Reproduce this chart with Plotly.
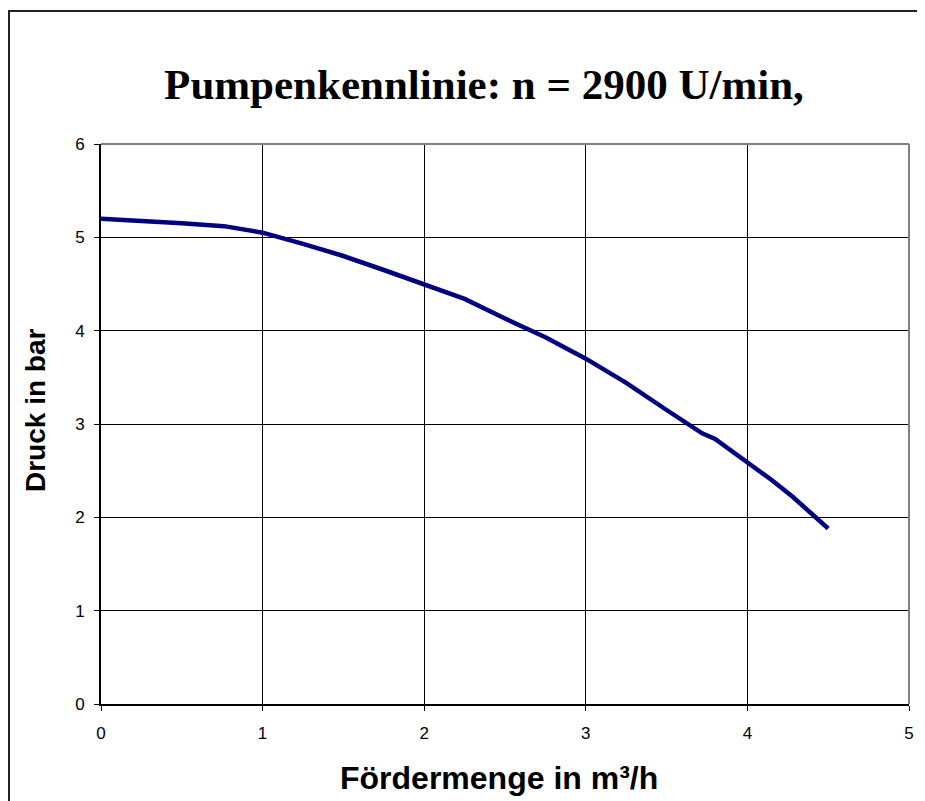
import plotly.graph_objects as go

# Data
foerdermenge = [0.0, 0.25, 0.5, 0.76, 1.0, 1.25, 1.5, 1.75, 2.0, 2.25, 2.5, 2.75, 3.0, 3.25, 3.5, 3.72, 3.8, 4.0, 4.15, 4.28, 4.5]
druck = [5.20, 5.18, 5.15, 5.12, 5.05, 4.93, 4.80, 4.65, 4.49, 4.34, 4.13, 3.93, 3.70, 3.44, 3.15, 2.90, 2.84, 2.59, 2.40, 2.22, 1.88]
x_ticks = [0, 1, 2, 3, 4, 5]
y_ticks = [0, 1, 2, 3, 4, 5, 6]

title_text = "Pumpenkennlinie: n = 2900 U/min,"
x_title = "Fördermenge in m³/h"
y_title = "Druck in bar"

# figure is placed at (8, 8) in the page because of the default body margin
W, H = 917, 793
L, R, T, B = 93, 16, 136, 97
pw = W - L - R
ph = H - T - B


def fx(px):
    return (px - L) / pw


def fy(py):
    return (H - B - py) / ph


fig = go.Figure()
fig.add_trace(go.Scatter(
    x=foerdermenge, y=druck, mode="lines",
    line=dict(color="#000080", width=4.5),
    showlegend=False, hoverinfo="x+y",
))

tick_font = dict(family="Liberation Sans", size=17, color="black")

fig.update_layout(
    width=W, height=H,
    margin=dict(l=L, r=R, t=T, b=B, pad=0),
    paper_bgcolor="white", plot_bgcolor="white",
    title=dict(
        text=title_text, x=fx(476), xanchor="center", xref="paper",
        y=1 - 76 / H, yanchor="middle",
        font=dict(family="Liberation Serif", size=43, color="black", weight="bold"),
    ),
    xaxis=dict(
        range=[0, 5], tickvals=x_ticks, ticktext=[str(v) for v in x_ticks],
        showgrid=True, gridcolor="black", gridwidth=1,
        showline=True, linecolor="black", linewidth=2,
        ticks="outside", ticklen=5, tickcolor="black", tickwidth=1,
        tickfont=tick_font, ticklabelstandoff=8,
        zeroline=False, fixedrange=True,
    ),
    yaxis=dict(
        range=[0, 6], tickvals=y_ticks, ticktext=[str(v) for v in y_ticks],
        showgrid=True, gridcolor="black", gridwidth=1,
        showline=True, linecolor="black", linewidth=2,
        ticks="outside", ticklen=5, tickcolor="black", tickwidth=1,
        tickfont=tick_font, ticklabelstandoff=6,
        zeroline=False, fixedrange=True,
    ),
    annotations=[
        dict(text=x_title, xref="paper", yref="paper",
             x=fx(491), y=fy(770), xanchor="center", yanchor="middle",
             showarrow=False,
             font=dict(family="Liberation Sans", size=32, color="black", weight="bold")),
        dict(text=y_title, xref="paper", yref="paper",
             x=fx(27), y=fy(403), xanchor="center", yanchor="middle",
             textangle=-90, showarrow=False,
             font=dict(family="Liberation Sans", size=28, color="black", weight="bold")),
    ],
    shapes=[
        # gray plot-area border on top and right
        dict(type="line", xref="paper", yref="paper", x0=0, x1=1, y0=1, y1=1,
             line=dict(color="#808080", width=2)),
        dict(type="line", xref="paper", yref="paper", x0=1, x1=1, y0=0, y1=1,
             line=dict(color="#808080", width=2)),
        # outer chart frame
        dict(type="rect", xref="paper", yref="paper",
             x0=fx(1), x1=fx(960),
             y0=fy(840), y1=fy(3),
             line=dict(color="#222222", width=2), layer="below"),
    ],
)

fig.write_html("out.html")
